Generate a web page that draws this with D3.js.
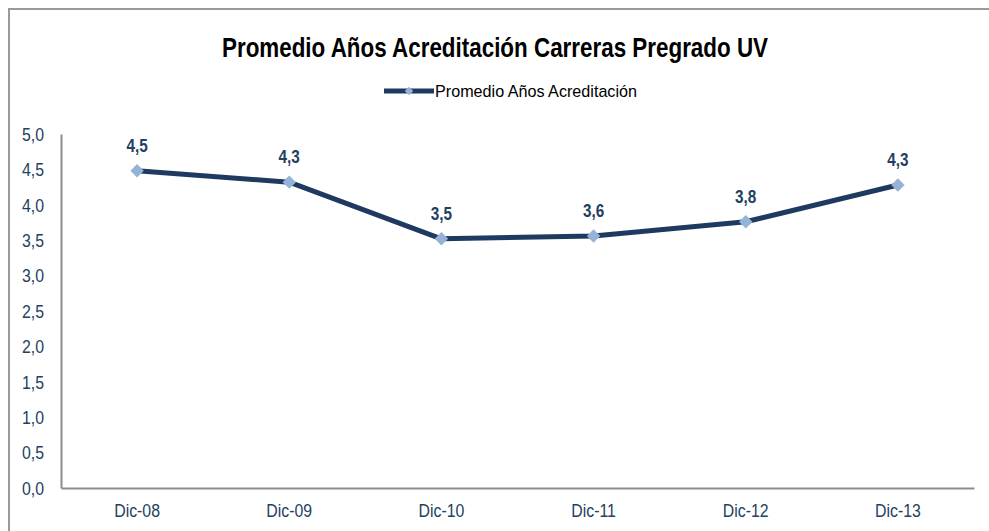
<!DOCTYPE html>
<html>
<head>
	<meta charset="utf-8">
	<title>Promedio Años Acreditación</title>
	<script src="https://cdn.jsdelivr.net/npm/d3@7"></script>
	<style>
		body { margin: 0; background: #fff; }
		svg { display: block; font-family: "Liberation Sans Narrow", "Arial Narrow", "Liberation Sans", sans-serif; }
	</style>
</head>
<body>
	<svg id="chart" width="989" height="531"></svg>
	<script>
		var categories = ["Dic-08", "Dic-09", "Dic-10", "Dic-11", "Dic-12", "Dic-13"];
		var values = [4.48, 4.32, 3.52, 3.56, 3.76, 4.28];
		var labels = ["4,5", "4,3", "3,5", "3,6", "3,8", "4,3"];
		var yTicks = [0, 0.5, 1, 1.5, 2, 2.5, 3, 3.5, 4, 4.5, 5];
		var seriesName = "Promedio Años Acreditación";

		var navy = "#1f3a60", marker = "#95b3d7", textCol = "#243f60";
		var svg = d3.select("#chart");

		// squeeze text horizontally to mimic the narrow font
		function narrow(sel, k) {
			sel.each(function () {
				var w = this.getComputedTextLength();
				d3.select(this).attr("textLength", w * k).attr("lengthAdjust", "spacingAndGlyphs");
			});
		}

		// outer frame
		svg.append("path").attr("d", "M9,531 V9 H989")
			.attr("fill", "none").attr("stroke", "#9a9a9a").attr("stroke-width", 2);

		var pLeft = 61, pRight = 974, pTop = 134, pBottom = 488;
		var x = d3.scaleBand().domain(categories).range([pLeft, pRight]);
		var y = d3.scaleLinear().domain([0, 5]).range([pBottom, pTop]);

		var title = svg.append("text").attr("x", 495).attr("y", 57).attr("text-anchor", "middle")
			.attr("font-size", 28).attr("font-weight", "bold").attr("fill", "#000")
			.text("Promedio Años Acreditación Carreras Pregrado UV");
		narrow(title, 0.8);

		// legend
		var lg = svg.append("g").attr("transform", "translate(384,91)");
		lg.append("line").attr("x1", 0).attr("x2", 50).attr("stroke", navy).attr("stroke-width", 5);
		lg.append("path").attr("d", d3.symbol(d3.symbolDiamond2, 45)()).attr("transform", "translate(25,0)").attr("fill", marker);
		var lgText = lg.append("text").attr("x", 51).attr("y", 6).attr("font-size", 17).attr("fill", "#000").text(seriesName);
		narrow(lgText, 0.95);

		// axes
		var yAxis = svg.append("g").attr("transform", "translate(" + pLeft + ",0)")
			.call(d3.axisLeft(y).tickValues(yTicks).tickSize(0).tickPadding(17)
				.tickFormat(function (d) { return d3.format(".1f")(d).replace(".", ","); }));
		var xAxis = svg.append("g").attr("transform", "translate(0," + pBottom + ")")
			.call(d3.axisBottom(x).tickSize(0).tickPadding(16));
		[yAxis, xAxis].forEach(function (g) {
			g.select(".domain").attr("stroke", "#8c8c8c").attr("stroke-width", 2);
			g.selectAll("text").attr("font-size", 18).attr("fill", textCol).attr("font-family", null);
			narrow(g.selectAll("text"), 0.88);
		});
		yAxis.selectAll("text").attr("dy", "0.35em");

		var cx = function (d, i) { return x(categories[i]) + x.bandwidth() / 2; };
		var line = d3.line().x(cx).y(function (d) { return y(d); });
		svg.append("path").datum(values).attr("d", line)
			.attr("fill", "none").attr("stroke", navy).attr("stroke-width", 5).attr("stroke-linejoin", "round");

		svg.selectAll(".pt").data(values).enter().append("path").attr("class", "pt")
			.attr("d", d3.symbol(d3.symbolDiamond2, 115)())
			.attr("transform", function (d, i) { return "translate(" + cx(d, i) + "," + y(d) + ")"; })
			.attr("fill", marker);

		var lbls = svg.selectAll(".lbl").data(values).enter().append("text").attr("class", "lbl")
			.attr("x", cx).attr("y", function (d) { return y(d) - 19; })
			.attr("text-anchor", "middle").attr("font-size", 18).attr("font-weight", "bold")
			.attr("fill", textCol).text(function (d, i) { return labels[i]; });
		narrow(lbls, 0.85);
	</script>
</body>
</html>
